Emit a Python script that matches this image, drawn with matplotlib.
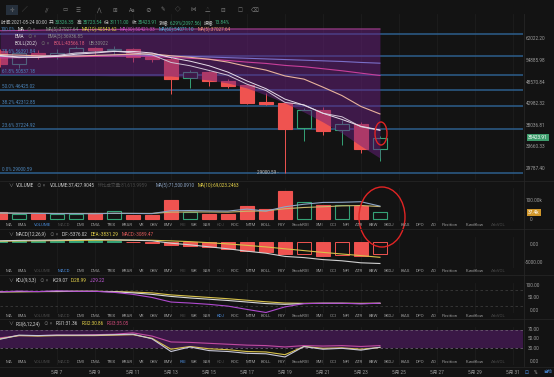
import math
import matplotlib
matplotlib.use('Agg')
import matplotlib.pyplot as plt
from matplotlib.patches import Ellipse

W, H = 554, 377
plt.rcParams['font.family'] = ['Roboto', 'Noto Sans CJK SC', 'DejaVu Sans']

# ---- data ----
days = list(range(4, 25))  # May 4 .. May 24
opens = [57960, 53870, 57200, 56400, 57400, 58900, 58200, 58620, 56040, 55400, 49770,
         51300, 48940, 47860, 43460, 43220, 37540, 41570, 37100, 38400, 33326.35]
highs = [58600, 57900, 58400, 58700, 59500, 59300, 59600, 59000, 57000, 56000, 51900,
         51700, 49500, 48000, 45640, 43500, 42000, 42200, 39100, 38700, 35723.54]
lows = [53000, 52600, 55300, 55300, 56900, 56300, 56500, 54500, 54300, 45478, 47000,
        47600, 47100, 42900, 42700, 29000.59, 34690, 36000, 33900, 32500, 31111.00]
closes = [53870, 57200, 56400, 57400, 58900, 58200, 58620, 56040, 55400, 49493, 51480,
          48940, 47590, 43220, 43000, 37330, 41570, 36705, 38400, 33326.35, 35423.91]

ma5 = [56500, 56000, 55900, 56200, 56900, 57300, 57800, 57800, 57300, 55800, 54700,
       53300, 51400, 48900, 46800, 44100, 42600, 40700, 39300, 37800, 37028]
ema5 = [56300, 55800, 56000, 56500, 57300, 57600, 57900, 57300, 56700, 54300, 53300,
        51900, 50500, 48000, 46300, 43300, 42700, 40700, 39900, 37700, 36937]
ma10 = [56800, 56600, 56400, 56300, 56300, 56500, 56700, 56900, 57000, 56400, 55900,
        55300, 54400, 53100, 52000, 50300, 49400, 47200, 45000, 42300, 40544]
ma30 = [55700, 55800, 55900, 56000, 56100, 56200, 56300, 56300, 56200, 55900, 55600,
        55300, 54900, 54400, 54000, 53400, 53000, 52400, 51800, 51100, 50421]
ma60 = [56200, 56300, 56400, 56400, 56500, 56500, 56600, 56600, 56500, 56300, 56200,
        56000, 55800, 55600, 55400, 55200, 55000, 54800, 54600, 54300, 54071]
boll_up = [65000, 65100, 65200, 65300, 65400, 65450, 65500, 65550, 65600, 65620, 65640,
           65645, 65645, 65645, 65645, 65645, 65645, 65645, 65645, 65645, 65645]
boll_lo = [50800, 50700, 50600, 50500, 50400, 50400, 50300, 50300, 50300, 50283, 49717,
           49153, 48323, 46971, 45146, 43143, 40996, 38733, 36388, 33808, 31581]

fib_levels = ['100.0%', '78.6%', '61.8%', '50.0%', '38.2%', '23.6%', '0.0%']
fib_prices = [63849.45, 56391.84, 50537.18, 46425.02, 42312.85, 37224.92, 29000.59]
price_ticks = [62022.20, 54885.98, 48570.84, 42982.32, 38036.81, 33660.33, 29787.40]

volume = [38, 28, 28, 28, 28, 32, 42, 25, 25, 107, 38, 28, 28, 74, 54, 156, 97, 78, 78, 72, 37.4]
vol_ma5 = [34, 32, 31, 30, 30, 29, 32, 31, 30, 46, 47, 45, 44, 55, 44, 68, 82, 92, 93, 96, 71.5]
vol_ma10 = [33, 32, 32, 31, 31, 31, 31, 31, 31, 38, 39, 39, 38, 43, 45, 57, 64, 68, 73, 75, 69.0]

dif = [300, 400, 450, 500, 600, 650, 550, 450, 300, -300, -700, -1200, -1700, -2300,
       -2800, -3600, -3900, -4400, -4700, -5200, -5376]
dea = [200, 250, 300, 350, 400, 450, 470, 460, 430, 280, 90, -170, -480, -840, -1230,
       -1700, -2150, -2600, -3000, -3400, -3831]
macd = [200, 300, 300, 300, 400, 400, 160, -20, -260, -800, -1000, -1300, -1700, -2200,
        -2500, -3000, -2900, -3400, -3300, -3500, -3089]

k_line = [74, 75, 75, 76, 76, 76, 74, 70, 64, 56, 50, 45, 40, 34, 28, 25, 28, 29, 29, 28, 29.07]
d_line = [74, 74, 75, 75, 76, 76, 75, 73, 70, 62, 57, 52, 47, 41, 35, 30, 29, 29, 29, 29, 28.99]
j_line = [74, 77, 75, 78, 76, 76, 72, 64, 52, 34, 30, 25, 18, 5, -7, 15, 28, 29, 29, 27, 29.22]

rsi1 = [49, 58, 57, 58, 58, 58, 59, 60, 50, 22, 32, 24, 22, 18, 17, 10, 33, 27, 29, 25, 31.36]
rsi2 = [50, 57, 56, 57, 57, 57, 58, 59, 51, 27, 33, 28, 26, 22, 21, 15, 33, 29, 30, 27, 30.86]
rsi3 = [52, 57, 57, 58, 58, 59, 60, 63, 56, 43, 42, 40, 38, 36, 35, 32, 35, 34, 35, 33, 35.05]

tick_days = [7, 9, 11, 13, 15, 17, 19, 21, 23, 25, 27, 29, 31]
tabs = ['MA', 'EMA', 'VOLUME', 'MACD', 'DMI', 'DMA', 'TRIX', 'BRAR', 'VR', 'OBV', 'EMV',
        'RSI', 'WR', 'SAR', 'KDJ', 'ROC', 'MTM', 'BOLL', 'PSY', 'StochRSI', 'SMI', 'CCI',
        'MFI', 'ATR', 'BBW', 'SKDJ', 'BIAS', 'DPO', 'AO', 'Position', 'Fundflow', 'ArbVOL']
tab_x = [6, 18, 34, 58, 77, 91, 107, 122, 139, 150, 164, 180, 191, 203, 217, 231, 246,
         261, 278, 292, 316, 330, 343, 355, 369, 384, 401, 416, 431, 442, 466, 491]

# ---- style ----
BG = '#131313'
GRID = '#1d1d1d'
RED = '#ef5350'
GREEN = '#35a276'
FIB = '#2c5e8c'
AXT = '#9c9c9c'
up = [c >= o for o, c in zip(opens, closes)]

fig = plt.figure(figsize=(W / 100, H / 100), dpi=100, facecolor=BG)


def add_ax(x0, y0, x1, y1):
    a = fig.add_axes([x0 / W, 1 - y1 / H, (x1 - x0) / W, (y1 - y0) / H])
    a.set_facecolor(BG)
    a.set_xlim(4, 31.53)
    for s in a.spines.values():
        s.set_visible(False)
    a.set_xticks([])
    a.set_yticks([])
    for d in tick_days:
        a.axvline(d, color=GRID, lw=0.6, zorder=0)
    return a


def price_y(p):
    # pixel row of a price on the log price axis
    return 39 - 176.3 * math.log(p / 62022.2)


# main price panel
ax = add_ax(0, 14, 523, 180)
ax.set_yscale('log')
ax.set_ylim(27873, 71475)
ax.minorticks_off()
ax.set_yticks([])
for p in fib_prices:
    ax.axhline(p, color=FIB, lw=1.1, zorder=2)
for d, o, h, l, c, u in zip(days, opens, highs, lows, closes, up):
    col = GREEN if u else RED
    ax.vlines(d, l, h, color=col, lw=0.7, zorder=3)
    ax.bar(d, abs(c - o), bottom=min(o, c), width=0.7, zorder=4,
           facecolor=BG if u else col, edgecolor=col, lw=0.8)
ax.fill_between(days, boll_lo, boll_up, color='#6a2080', alpha=0.5, lw=0, zorder=5)
ax.plot(days, boll_up, color='#b0409a', lw=0.8, zorder=6)
ax.plot(days, ma60, color='#7a6fc8', lw=0.8, zorder=6)
ax.plot(days, ma30, color='#c83f9a', lw=0.8, zorder=6)
ax.plot(days, ma10, color='#e8b39c', lw=0.8, zorder=6)
ax.plot(days, ema5, color='#cfc4d4', lw=0.7, zorder=6)
ax.plot(days, ma5, color='#e6dde8', lw=0.7, zorder=6)

# volume panel
axv = add_ax(0, 188, 523, 221)
axv.set_ylim(-11.1, 172.2)
for d, v, u in zip(days, volume, up):
    col = GREEN if u else RED
    axv.bar(d, v, width=0.7, facecolor=BG if u else col, edgecolor=col, lw=0.8, zorder=3)
axv.plot(days, vol_ma10, color='#c9b46a', lw=0.8, zorder=4)
axv.plot(days, vol_ma5, color='#8ea6c6', lw=0.8, zorder=4)

# MACD panel
axm = add_ax(0, 237, 523, 268)
axm.set_ylim(-6500, 1250)
prev = None
for d, m in zip(days, macd):
    rising = prev is not None and m > prev
    col = GREEN if m >= 0 else RED
    hollow = m < 0 and rising
    axm.bar(d, m, width=0.7, facecolor=BG if hollow else col, edgecolor=col, lw=0.7, zorder=3)
    prev = m
axm.plot(days, dea, color='#d8c24a', lw=0.8, zorder=4)
axm.plot(days, dif, color='#d0d0d0', lw=0.8, zorder=4)

# KDJ panel
axk = add_ax(0, 283, 523, 313)
axk.set_ylim(-9, 108.6)
for lv in (80, 20):
    axk.axhline(lv, color='#3a3a3a', lw=0.6, ls=(0, (3, 3)), zorder=1)
axk.plot(days, d_line, color='#d8c24a', lw=0.8, zorder=3)
axk.plot(days, k_line, color='#d8d8d8', lw=0.8, zorder=3)
axk.plot(days, j_line, color='#b04ad0', lw=0.8, zorder=3)

# RSI panel
axr = add_ax(0, 327, 523, 365)
axr.set_ylim(-7.7, 75.9)
axr.axhspan(30, 70, color='#3a1846', zorder=1, lw=0)
for lv in (70, 30):
    axr.axhline(lv, color='#6a5a70', lw=0.6, ls=(0, (3, 3)), zorder=2)
axr.plot(days, rsi3, color='#c04aa0', lw=0.8, zorder=3)
axr.plot(days, rsi2, color='#d8c24a', lw=0.8, zorder=3)
axr.plot(days, rsi1, color='#c8c8d8', lw=0.8, zorder=3)

# ---- overlay for all text in pixel coordinates ----
ov = fig.add_axes([0, 0, 1, 1], zorder=10)
ov.set_xlim(0, W)
ov.set_ylim(H, 0)
ov.axis('off')
ov.patch.set_alpha(0)
renderer = fig.canvas.get_renderer()


def t(x, y, s, c=AXT, fs=3.5, ha='left', **kw):
    return ov.text(x, y, s, color=c, fontsize=fs, ha=ha, va='center', **kw)


def chain(x, y, parts, fs=3.5):
    # lay out (text, colour, gap after) pieces one after another
    for s, c, gap in parts:
        tx = t(x, y, s, c, fs)
        x += tx.get_window_extent(renderer).width + gap
    return x


# separators
for y in (180.5, 228.5, 274.5, 318.5, 366.5):
    ov.plot([0, W], [y, y], color='#242424', lw=0.6)
ov.plot([523.5, 523.5], [14, 366], color='#262626', lw=0.6)

# toolbar
icons = ['✛', '╱', '//', '▭', '☰', '⋀', '⊞', 'Aa', '⊘', '✎', '◇', '⋈', '△', '⊟', '☐', '⌫']
icon_x = [12, 25, 47, 65, 78, 98, 115, 132, 148, 163, 178, 193, 208, 223, 240, 255]
for x, s in zip(icon_x, icons):
    t(x, 10, s, '#7a7a7a', fs=4, ha='center')
ov.add_patch(plt.Rectangle((6, 5), 12, 10, fc='#26303c', ec='none', zorder=-1))

# header rows of the price panel
GV = '#3fb27f'
LB = '#c4c4c4'
chain(1, 22.7, [('时间:2021-05-24 00:00', LB, 2), ('开:', LB, 0.3), ('33326.35', GV, 2),
                ('高:', LB, 0.3), ('35723.54', GV, 2), ('低:', LB, 0.3), ('31111.00', GV, 2),
                ('收:', LB, 0.3), ('35423.91', GV, 2), ('涨幅:', LB, 0.3),
                ('6.29%(2097.56)', GV, 2), ('振幅:', LB, 0.3), ('13.84%', GV, 0)], fs=3.3)
chain(1, 29.3, [('100.0%', '#4c86bd', 1.5), ('MA', '#e0e0e0', 3), ('⊙ ×', '#6a6a6a', 10),
                ('MA(5):37027.64', '#8a9a8a', 3), ('MA(10):40543.62', '#e6d34a', 3),
                ('MA(30):50421.33', '#d04fc8', 3), ('MA(60):54071.10', '#4fb0d8', 3),
                ('MA(5):37027.64', '#e8907a', 0)], fs=3.3)
chain(15, 36, [('EMA', '#e0e0e0', 3), ('⊙ ×', '#6a6a6a', 12),
               ('EMA(5):36936.85', '#8a8a8a', 0)], fs=3.3)
chain(15, 43.3, [('BOLL(20,2)', '#e0e0e0', 3), ('⊙ ×', '#6a6a6a', 5),
                 ('BOLL:43566.18', '#e05a7a', 3), ('UB:30922', '#8a8a8a', 0)], fs=3.3)

# fib labels
for lv, p in zip(fib_levels[1:], fib_prices[1:]):
    t(2, price_y(p) - 4, '%s %.2f' % (lv, p), '#4c86bd', fs=3.3)

# price axis labels
for p in price_ticks:
    t(526, price_y(p), '%.2f' % p, AXT, fs=3.4)
t(538, 137.5, '35423.91', 'white', fs=3.4, ha='center',
  bbox=dict(fc='#3d9c6c', ec='none', boxstyle='square,pad=0.25'))
t(268, 172.5, '29000.59 ‐', '#bdbdbd', ha='center', fs=3.3)

# volume
t(8, 185.6, '∨', '#8a8a8a')
chain(16, 185.6, [('VOLUME', '#d0d0d0', 3), ('⊙ ×', '#6a6a6a', 4),
                  ('VOLUME:37,427.9045', '#d0d0d0', 3), ('环比成交量:81,613.9959', '#4a4a4a', 8),
                  ('MA(5):71,500.0910', '#8ea6c6', 3), ('MA(10):69,023.2463', '#e6d34a', 0)], fs=3.3)
t(526, 201, '100.00k', AXT, fs=3.4)
t(534, 212.5, '37.4k', 'white', fs=3.4, ha='center',
  bbox=dict(fc='#d0962a', ec='none', boxstyle='square,pad=0.25'))
t(530, 219.5, '0', AXT, fs=3.4)

# MACD
t(8, 234, '∨', '#8a8a8a')
chain(16, 234, [('MACD(12,26,9)', '#d0d0d0', 3), ('⊙ ×', '#6a6a6a', 4),
                ('DIF:-5376.02', '#d0d0d0', 3), ('DEA:-3831.29', '#e6d34a', 3),
                ('MACD:-3089.47', '#e05a5a', 0)], fs=3.3)
t(530, 244, '0.00', AXT, fs=3.4)
t(525, 262, '-5000.00', AXT, fs=3.4)

# KDJ
t(8, 280, '∨', '#8a8a8a')
chain(16, 280, [('KDJ(9,3,3)', '#d0d0d0', 3), ('⊙ ×', '#6a6a6a', 4),
                ('K:29.07', '#d0d0d0', 3), ('D:28.99', '#e6d34a', 3),
                ('J:29.22', '#c05ad8', 0)], fs=3.3)
t(526, 285.2, '100.00', AXT, fs=3.4)
t(528, 297.9, '50.00', AXT, fs=3.4)
t(530, 310.7, '0.00', AXT, fs=3.4)

# RSI
t(8, 323.7, '∨', '#8a8a8a')
chain(16, 323.7, [('RSI(6,12,24)', '#d0d0d0', 3), ('⊙ ×', '#6a6a6a', 4),
                  ('RSI1:31.36', '#d0d0d0', 3), ('RSI2:30.86', '#e6d34a', 3),
                  ('RSI3:35.05', '#d04a7a', 0)], fs=3.3)
t(528, 329.7, '70.00', AXT, fs=3.4)
t(528, 338.6, '50.00', AXT, fs=3.4)
t(528, 348, '30.00', AXT, fs=3.4)
t(530, 361.5, '0.00', AXT, fs=3.4)

# indicator tab rows
for y, active in [(225.5, 'VOLUME'), (271, 'MACD'), (315.6, 'KDJ'), (362.2, 'RSI')]:
    for x, name in zip(tab_x, tabs):
        if name == active:
            c = '#4a8ad8'
        elif name in ('VOLUME', 'MACD', 'KDJ', 'RSI', 'ArbVOL'):
            c = '#4a4a4a'
        else:
            c = '#9a9a9a'
        t(x, y, name, c, fs=3.2)

# date labels
for d in tick_days:
    t((d - 4) * 19, 372, '5月 %d' % d, AXT, fs=3.4, ha='center')
t(527, 372, '⊡', '#4a8ad8', fs=3.4, ha='center')
t(535, 372, '%', '#b0b0b0', fs=3.4, ha='center')
t(548, 372, '自动', '#4a8ad8', fs=3.2, ha='center')

# red marker ellipses
ov.add_patch(Ellipse((381, 133.5), 12, 23, fill=False, ec='#e02424', lw=1))
ov.add_patch(Ellipse((382, 217), 46, 60, fill=False, ec='#e02424', lw=1))

fig.savefig('out.png', dpi=100, facecolor=BG)
